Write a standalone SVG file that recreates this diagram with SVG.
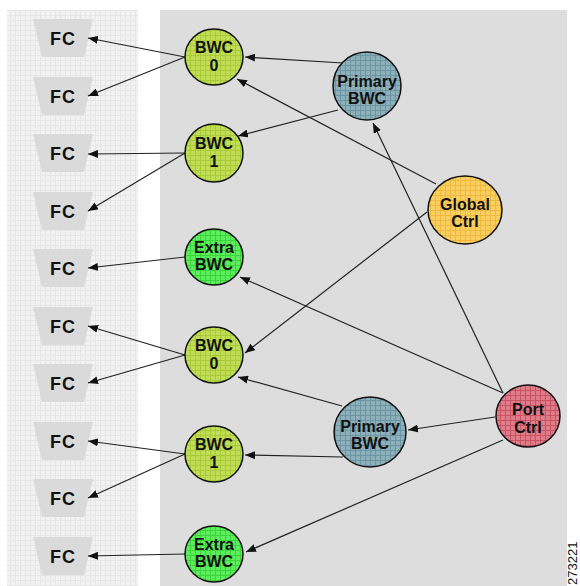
<svg xmlns="http://www.w3.org/2000/svg" width="580" height="586" viewBox="0 0 580 586">
<defs>
<style>
.lbl{font-family:"Liberation Sans",Arial,sans-serif;font-weight:bold;font-size:16px;fill:#111;text-anchor:middle}
.fct{font-family:"Liberation Sans",Arial,sans-serif;font-weight:bold;font-size:18px;fill:#111;text-anchor:middle;letter-spacing:1px}
.node{stroke:#111;stroke-width:1.5}
.fc{fill:#dadada}
.conn line{stroke:#222;stroke-width:1.2;marker-end:url(#arr)}
</style>
<marker id="arr" viewBox="0 0 10 8" refX="10" refY="4" markerWidth="10" markerHeight="8" markerUnits="userSpaceOnUse" orient="auto">
<path d="M0,0 L10,4 L0,8 Z" fill="#111"/>
</marker>
<pattern id="gPanel" width="5" height="5" patternUnits="userSpaceOnUse">
<rect width="5" height="5" fill="#f2f2f2"/><path d="M0,0.5H5M0.5,0V5" stroke="#e6e6e6" stroke-width="1"/>
</pattern>
<pattern id="gBwc" width="5" height="5" patternUnits="userSpaceOnUse">
<rect width="5" height="5" fill="#c0dd55"/><path d="M0,0.5H5M0.5,0V5" stroke="#a8c938" stroke-width="1"/>
</pattern>
<pattern id="gExtra" width="5" height="5" patternUnits="userSpaceOnUse">
<rect width="5" height="5" fill="#5cee5c"/><path d="M0,0.5H5M0.5,0V5" stroke="#3cd43c" stroke-width="1"/>
</pattern>
<pattern id="gPrim" width="5" height="5" patternUnits="userSpaceOnUse">
<rect width="5" height="5" fill="#8db0bb"/><path d="M0,0.5H5M0.5,0V5" stroke="#6b95a2" stroke-width="1"/>
</pattern>
<pattern id="gGlob" width="5" height="5" patternUnits="userSpaceOnUse">
<rect width="5" height="5" fill="#f8cf60"/><path d="M0,0.5H5M0.5,0V5" stroke="#eeb93e" stroke-width="1"/>
</pattern>
<pattern id="gPort" width="5" height="5" patternUnits="userSpaceOnUse">
<rect width="5" height="5" fill="#de7c89"/><path d="M0,0.5H5M0.5,0V5" stroke="#ca5363" stroke-width="1"/>
</pattern>
<path id="trap" d="M-30,0 H30 L21,38 H-21 Z"/>
</defs>
<rect width="580" height="586" fill="#ffffff"/>
<rect x="7" y="10" width="131" height="576" fill="url(#gPanel)"/>
<rect x="160" y="10" width="407" height="576" fill="#dddddd"/>

<g id="fc1"><use href="#trap" class="fc" x="63" y="19"/><text class="fct" x="63" y="45">FC</text></g>
<g id="fc2"><use href="#trap" class="fc" x="63" y="77"/><text class="fct" x="63" y="103">FC</text></g>
<g id="fc3"><use href="#trap" class="fc" x="63" y="134"/><text class="fct" x="63" y="160">FC</text></g>
<g id="fc4"><use href="#trap" class="fc" x="63" y="192"/><text class="fct" x="63" y="218">FC</text></g>
<g id="fc5"><use href="#trap" class="fc" x="63" y="249"/><text class="fct" x="63" y="275">FC</text></g>
<g id="fc6"><use href="#trap" class="fc" x="63" y="307"/><text class="fct" x="63" y="333">FC</text></g>
<g id="fc7"><use href="#trap" class="fc" x="63" y="364"/><text class="fct" x="63" y="390">FC</text></g>
<g id="fc8"><use href="#trap" class="fc" x="63" y="422"/><text class="fct" x="63" y="448">FC</text></g>
<g id="fc9"><use href="#trap" class="fc" x="63" y="479"/><text class="fct" x="63" y="505">FC</text></g>
<g id="fc10"><use href="#trap" class="fc" x="63" y="537"/><text class="fct" x="63" y="563">FC</text></g>

<g id="connectors" class="conn">
<line x1="185" y1="57" x2="88" y2="38"/>
<line x1="185" y1="57" x2="88" y2="96"/>
<line x1="185" y1="153" x2="88" y2="154"/>
<line x1="185" y1="153" x2="88" y2="211"/>
<line x1="185" y1="257" x2="88" y2="268"/>
<line x1="185" y1="355" x2="88" y2="326"/>
<line x1="185" y1="355" x2="88" y2="383"/>
<line x1="185" y1="454" x2="88" y2="441"/>
<line x1="185" y1="454" x2="88" y2="498"/>
<line x1="185" y1="554" x2="88" y2="556"/>
<line x1="343" y1="63" x2="245" y2="57"/>
<line x1="338" y1="110" x2="238" y2="136"/>
<line x1="436" y1="184" x2="237" y2="79"/>
<line x1="427" y1="212" x2="245" y2="353"/>
<line x1="503" y1="393" x2="373" y2="123"/>
<line x1="503" y1="393" x2="240" y2="277"/>
<line x1="495" y1="417" x2="408" y2="430"/>
<line x1="503" y1="440" x2="246" y2="552"/>
<line x1="342" y1="406" x2="238" y2="377"/>
<line x1="343" y1="457" x2="245" y2="455"/>
</g>

<g id="bwc0a"><ellipse class="node" cx="214" cy="57" rx="29" ry="28" fill="url(#gBwc)"/><text class="lbl" x="214" y="53">BWC</text><text class="lbl" x="214" y="71">0</text></g>
<g id="bwc1a"><ellipse class="node" cx="214" cy="153" rx="29" ry="29" fill="url(#gBwc)"/><text class="lbl" x="214" y="149">BWC</text><text class="lbl" x="214" y="167">1</text></g>
<g id="extraA"><ellipse class="node" cx="214" cy="257" rx="29" ry="28" fill="url(#gExtra)"/><text class="lbl" x="214" y="253">Extra</text><text class="lbl" x="214" y="270">BWC</text></g>
<g id="bwc0b"><ellipse class="node" cx="214" cy="355" rx="29" ry="28" fill="url(#gBwc)"/><text class="lbl" x="214" y="351">BWC</text><text class="lbl" x="214" y="369">0</text></g>
<g id="bwc1b"><ellipse class="node" cx="214" cy="454" rx="29" ry="28" fill="url(#gBwc)"/><text class="lbl" x="214" y="450">BWC</text><text class="lbl" x="214" y="468">1</text></g>
<g id="extraB"><ellipse class="node" cx="214" cy="554" rx="29" ry="28" fill="url(#gExtra)"/><text class="lbl" x="214" y="550">Extra</text><text class="lbl" x="214" y="567">BWC</text></g>
<g id="primA"><ellipse class="node" cx="367" cy="86" rx="34" ry="34" fill="url(#gPrim)"/><text class="lbl" x="367" y="87">Primary</text><text class="lbl" x="367" y="104">BWC</text></g>
<g id="primB"><ellipse class="node" cx="370" cy="432" rx="36" ry="35" fill="url(#gPrim)"/><text class="lbl" x="370" y="432">Primary</text><text class="lbl" x="370" y="449">BWC</text></g>
<g id="global"><ellipse class="node" cx="465" cy="210" rx="37" ry="34" fill="url(#gGlob)"/><text class="lbl" x="465" y="210">Global</text><text class="lbl" x="465" y="227">Ctrl</text></g>
<g id="port"><ellipse class="node" cx="528" cy="416" rx="32" ry="31" fill="url(#gPort)"/><text class="lbl" x="528" y="415">Port</text><text class="lbl" x="528" y="433">Ctrl</text></g>

<text x="577" y="585" transform="rotate(-90 577 585)" font-family="'Liberation Sans',Arial,sans-serif" font-size="13" fill="#111">273221</text>
</svg>
